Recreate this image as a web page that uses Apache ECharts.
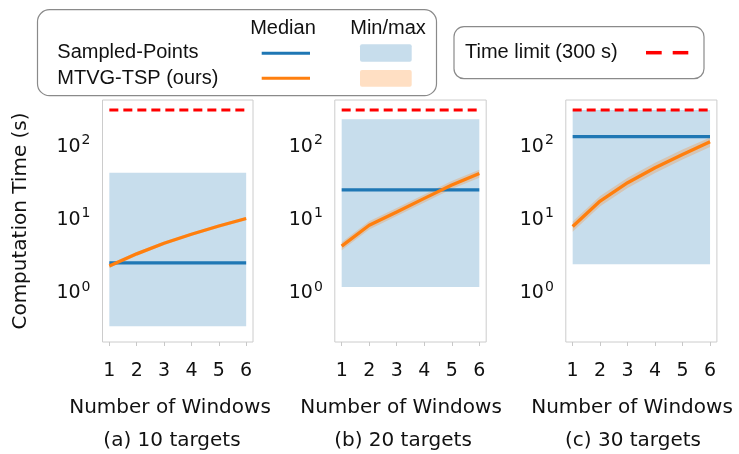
<!DOCTYPE html>
<html><head><meta charset="utf-8">
<script src="https://cdn.jsdelivr.net/npm/echarts@6/dist/echarts.min.js"></script>
<style>html,body{margin:0;padding:0;background:#fff}#c{width:739px;height:454px}</style>
</head><body><div id="c"></div>
<script>
// ---- data ----
const windows = [1, 2, 3, 4, 5, 6];
const xTickLabels = ['1', '2', '3', '4', '5', '6'];
const panelCaptions = ['(a) 10 targets', '(b) 20 targets', '(c) 30 targets'];
const timeLimit = 300;
const sampledMedian = [2.49, 24.5, 130];
const sampledMin = [0.34, 1.17, 2.39];
const sampledMax = [42, 224, 300];
const oursMedian10 = [2.26, 3.3, 4.6, 6.1, 7.9, 10.0];
const oursMin10 = [2.12, 3.1, 4.35, 5.8, 7.5, 9.5];
const oursMax10 = [2.4, 3.5, 4.85, 6.4, 8.3, 10.5];
const oursMedian20 = [4.2, 8.1, 12.3, 18.8, 28.6, 41];
const oursMin20 = [3.7, 7.1, 10.8, 16.5, 25.2, 36];
const oursMax20 = [4.75, 9.15, 13.9, 21.2, 32.3, 46.3];
const oursMedian30 = [7.8, 17.3, 30.7, 49, 74.6, 111];
const oursMin30 = [6.6, 14.7, 26.1, 41.6, 63.4, 94.3];
const oursMax30 = [9.1, 20.2, 35.9, 57.3, 87.3, 127];
const yMin = 0.208, yMax = 411;

const oursMedian = [oursMedian10, oursMedian20, oursMedian30];
const oursMin = [oursMin10, oursMin20, oursMin30];
const oursMax = [oursMax10, oursMax20, oursMax30];

// ---- layout ----
const grids = [
  {left: 102.5, top: 100, width: 150.5, height: 242},
  {left: 334.8, top: 100, width: 151.4, height: 242},
  {left: 565.8, top: 100, width: 151.1, height: 242}
];
const xTitleCenters = [170, 401, 632];
const captionCenters = [172, 403, 633];

const BLUE = '#1f77b4', ORANGE = '#ff7f0e', RED = '#ff0000';
const BLUE_FILL = 'rgba(31,119,180,0.25)', ORANGE_FILL = 'rgba(255,127,14,0.25)';
const DV = 'DejaVu Sans';

function bandSeries(p, xs, lo, hi, fill, z) {
  return {
    type: 'custom', xAxisIndex: p, yAxisIndex: p, z: z, silent: true,
    data: [[xs[0], hi[0]]],
    renderItem: function (params, api) {
      const pts = [];
      for (let i = 0; i < xs.length; i++) pts.push(api.coord([xs[i], hi[i]]));
      for (let i = xs.length - 1; i >= 0; i--) pts.push(api.coord([xs[i], lo[i]]));
      return {type: 'polygon', shape: {points: pts}, style: {fill: fill}};
    }
  };
}

const xAxes = [], yAxes = [], series = [];
for (let p = 0; p < 3; p++) {
  xAxes.push({
    type: 'value', gridIndex: p, min: 0.75, max: 6.25,
    axisLine: {show: false}, splitLine: {show: false},
    axisTick: {show: true, customValues: windows, length: 4, lineStyle: {color: '#c8c8c8'}},
    axisLabel: {customValues: windows, margin: 20, fontFamily: DV, fontSize: 19, color: '#111',
      formatter: v => xTickLabels[windows.indexOf(Math.round(v))] || ''}
  });
  yAxes.push({
    type: 'log', logBase: 10, gridIndex: p, min: yMin, max: yMax,
    axisLine: {show: false}, splitLine: {show: false},
    axisTick: {show: false},
    axisLabel: {margin: 12, color: '#111',
      formatter: function (v) {
        const e = Math.log10(v);
        if (Math.abs(e - Math.round(e)) > 1e-6) return '';
        return '{b|10}{s|' + Math.round(e) + '}';
      },
      rich: {
        b: {fontFamily: DV, fontSize: 19, color: '#111', padding: [3, 0, 0, 0]},
        s: {fontFamily: DV, fontSize: 14, color: '#111', padding: [0, 0, 10, 1]}
      }
    },
    name: p === 0 ? 'Computation Time (s)' : '',
    nameLocation: 'middle', nameGap: 72,
    nameTextStyle: {fontFamily: DV, fontSize: 20, color: '#111'}
  });
  // Sampled-Points min/max band
  series.push(bandSeries(p, [windows[0], windows[windows.length - 1]],
    [sampledMin[p], sampledMin[p]], [sampledMax[p], sampledMax[p]], BLUE_FILL, 1));
  // MTVG-TSP min/max band
  series.push(bandSeries(p, windows, oursMin[p], oursMax[p], ORANGE_FILL, 2));
  // Sampled-Points median
  series.push({
    type: 'line', xAxisIndex: p, yAxisIndex: p, z: 3, symbol: 'none', silent: true,
    data: windows.map(x => [x, sampledMedian[p]]),
    lineStyle: {color: BLUE, width: 3.3}
  });
  // MTVG-TSP median
  series.push({
    type: 'line', xAxisIndex: p, yAxisIndex: p, z: 4, symbol: 'none', silent: true,
    data: windows.map((x, i) => [x, oursMedian[p][i]]),
    lineStyle: {color: ORANGE, width: 3.3}
  });
  // time limit
  series.push({
    type: 'line', xAxisIndex: p, yAxisIndex: p, z: 5, symbol: 'none', silent: true,
    data: windows.map(x => [x, timeLimit]),
    lineStyle: {color: RED, width: 3, type: [9, 5]}
  });
}

const graphic = [];
for (let p = 0; p < 3; p++) {
  graphic.push({type: 'text', x: xTitleCenters[p], y: 408,
    style: {text: 'Number of Windows', font: '20px "DejaVu Sans"', fill: '#111', align: 'center', verticalAlign: 'middle'}});
  graphic.push({type: 'text', x: captionCenters[p], y: 441,
    style: {text: panelCaptions[p], font: '20px "DejaVu Sans"', fill: '#111', align: 'center', verticalAlign: 'middle'}});
}
// legend box 1
graphic.push({type: 'rect', shape: {x: 37.5, y: 9.7, width: 399, height: 86, r: 12},
  style: {fill: '#fff', stroke: '#8a8a8a', lineWidth: 1.2}, z: 10});
graphic.push({type: 'text', x: 283, y: 28, z: 11,
  style: {text: 'Median', font: '20px "Liberation Sans"', fill: '#111', align: 'center', verticalAlign: 'middle'}});
graphic.push({type: 'text', x: 388, y: 28, z: 11,
  style: {text: 'Min/max', font: '20px "Liberation Sans"', fill: '#111', align: 'center', verticalAlign: 'middle'}});
graphic.push({type: 'text', x: 57.3, y: 52, z: 11,
  style: {text: 'Sampled-Points', font: '20px "Liberation Sans"', fill: '#111', align: 'left', verticalAlign: 'middle'}});
graphic.push({type: 'text', x: 57.3, y: 78.5, z: 11,
  style: {text: 'MTVG-TSP (ours)', font: '20px "Liberation Sans"', fill: '#111', align: 'left', verticalAlign: 'middle'}});
graphic.push({type: 'line', z: 11, shape: {x1: 261.7, y1: 53.3, x2: 310, y2: 53.3}, style: {stroke: BLUE, lineWidth: 3}});
graphic.push({type: 'line', z: 11, shape: {x1: 261.7, y1: 78.3, x2: 310, y2: 78.3}, style: {stroke: ORANGE, lineWidth: 3}});
graphic.push({type: 'rect', z: 11, shape: {x: 360, y: 44.3, width: 51.7, height: 17.4, r: 2}, style: {fill: BLUE_FILL}});
graphic.push({type: 'rect', z: 11, shape: {x: 360, y: 70, width: 51.7, height: 16.7, r: 2}, style: {fill: ORANGE_FILL}});
// legend box 2
graphic.push({type: 'rect', shape: {x: 454, y: 26.7, width: 250, height: 52, r: 10},
  style: {fill: '#fff', stroke: '#8a8a8a', lineWidth: 1.2}, z: 10});
graphic.push({type: 'text', x: 465, y: 52.5, z: 11,
  style: {text: 'Time limit (300 s)', font: '20px "Liberation Sans"', fill: '#111', align: 'left', verticalAlign: 'middle'}});
graphic.push({type: 'line', z: 11, shape: {x1: 646, y1: 52.7, x2: 661.7, y2: 52.7}, style: {stroke: RED, lineWidth: 3.5}});
graphic.push({type: 'line', z: 11, shape: {x1: 672.7, y1: 52.7, x2: 688.3, y2: 52.7}, style: {stroke: RED, lineWidth: 3.5}});

const chart = echarts.init(document.getElementById('c'), null, {renderer: 'canvas'});
chart.setOption({
  animation: false,
  backgroundColor: '#fff',
  grid: grids.map(g => Object.assign({show: true, borderColor: '#cccccc', borderWidth: 1, backgroundColor: 'transparent', containLabel: false}, g)),
  xAxis: xAxes,
  yAxis: yAxes,
  series: series,
  graphic: graphic
});
</script>
</body></html>
